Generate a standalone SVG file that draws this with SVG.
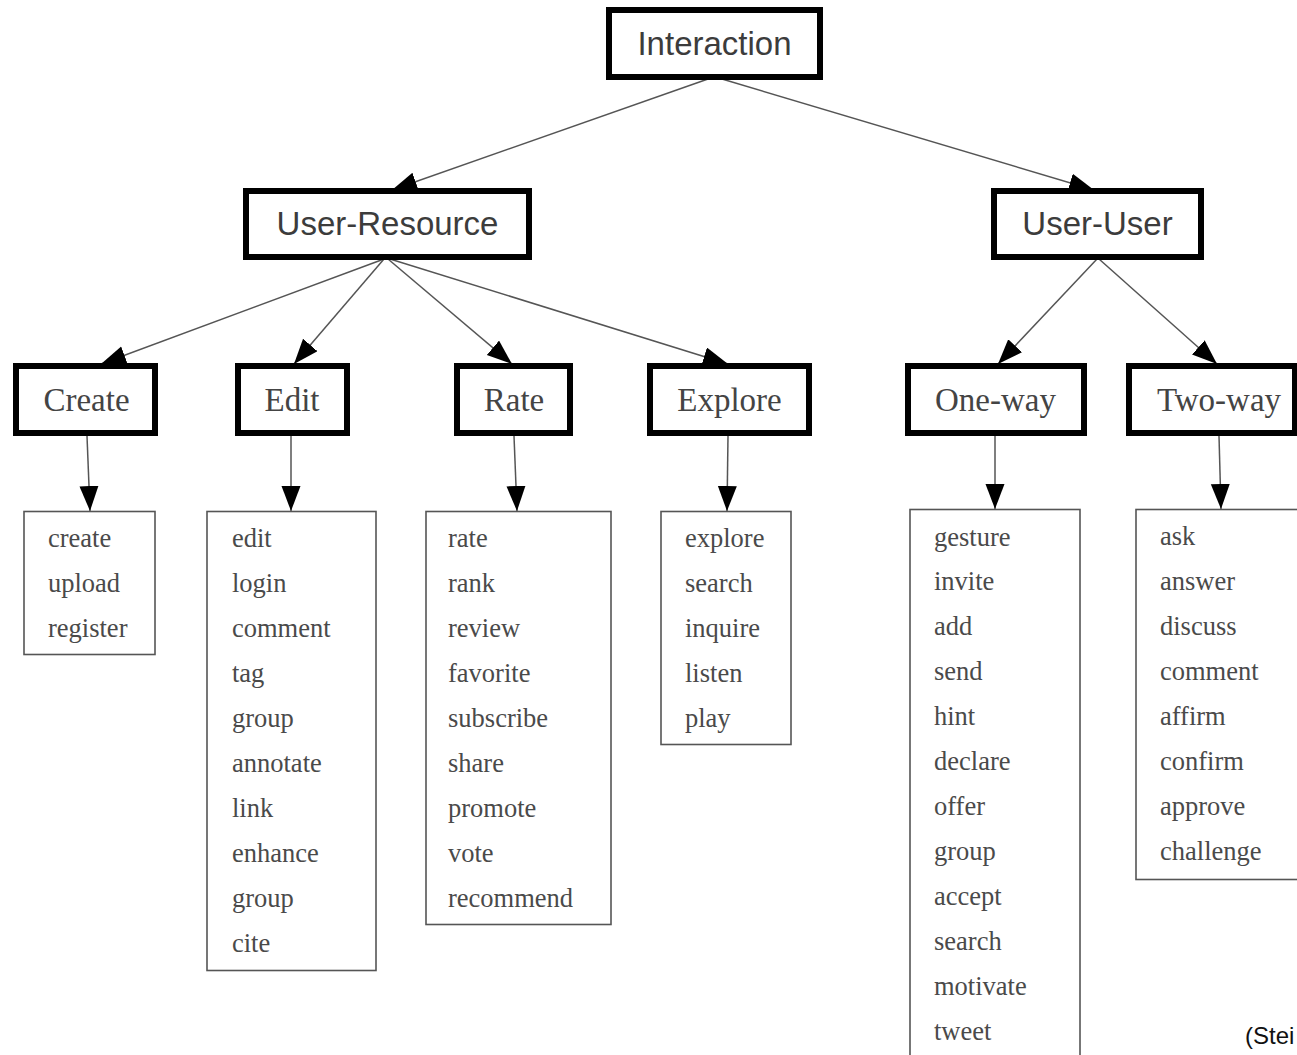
<svg xmlns="http://www.w3.org/2000/svg" width="1297" height="1055" viewBox="0 0 1297 1055">
<style>
.bg{fill:#fff}
.hd{fill:#fff;stroke:#000;stroke-width:6}
.ls{fill:#fff;stroke:#555;stroke-width:1.6}
.sans{font-family:"Liberation Sans",Arial,sans-serif;font-size:33px;fill:#3c3c3c;text-anchor:middle}
.ser{font-family:"Liberation Serif","Times New Roman",serif;font-size:33px;fill:#444;text-anchor:middle}
.it{font-family:"Liberation Serif","Times New Roman",serif;font-size:26.5px;fill:#4a4a4a}
.cn line{stroke:#555;stroke-width:1.5;marker-end:url(#ah)}
.note{font-family:"Liberation Sans",Arial,sans-serif;font-size:24px;fill:#111}
</style>
<defs>
<marker id="ah" markerUnits="userSpaceOnUse" markerWidth="26" markerHeight="20" refX="25" refY="9.5" orient="auto">
<path d="M0,0 L25,9.5 L0,19 z" fill="#000"/>
</marker>
</defs>
<rect class="bg" x="0" y="0" width="1297" height="1055"/>
<g id="connectors" class="cn">
<line x1="708" y1="79" x2="392" y2="190"/>
<line x1="722" y1="79" x2="1094" y2="190"/>
<line x1="384" y1="259" x2="101" y2="364"/>
<line x1="384" y1="259" x2="294" y2="364"/>
<line x1="388" y1="259" x2="512" y2="364"/>
<line x1="390" y1="259" x2="728" y2="364"/>
<line x1="1097" y1="259" x2="998" y2="364"/>
<line x1="1099" y1="259" x2="1217" y2="364"/>
<line x1="87" y1="436" x2="90" y2="511"/>
<line x1="291" y1="436" x2="291" y2="511"/>
<line x1="514" y1="436" x2="517" y2="511"/>
<line x1="728" y1="436" x2="727" y2="511"/>
<line x1="995" y1="436" x2="995" y2="509"/>
<line x1="1219" y1="436" x2="1221" y2="509"/>
</g>
<g id="interaction"><rect class="hd" x="609" y="10" width="211" height="67"/><text class="sans" x="714.5" y="55">Interaction</text></g>
<g id="user-resource"><rect class="hd" x="246" y="191" width="283" height="66"/><text class="sans" x="387.5" y="235">User-Resource</text></g>
<g id="user-user"><rect class="hd" x="994" y="191" width="207" height="66"/><text class="sans" x="1097.5" y="235">User-User</text></g>
<g id="create"><rect class="hd" x="16" y="366" width="139" height="67"/><text class="ser" x="86.5" y="411">Create</text></g>
<g id="edit"><rect class="hd" x="238" y="366" width="109" height="67"/><text class="ser" x="292" y="411">Edit</text></g>
<g id="rate"><rect class="hd" x="457" y="366" width="113" height="67"/><text class="ser" x="514" y="411">Rate</text></g>
<g id="explore"><rect class="hd" x="650" y="366" width="159" height="67"/><text class="ser" x="729.5" y="411">Explore</text></g>
<g id="one-way"><rect class="hd" x="908" y="366" width="176" height="67"/><text class="ser" x="995.5" y="411">One-way</text></g>
<g id="two-way"><rect class="hd" x="1129" y="366" width="166" height="67"/><text class="ser" x="1219" y="411">Two-way</text></g>
<g id="create-list"><rect class="ls" x="24" y="511.5" width="131" height="143"/>
<text class="it" x="48" y="547">create</text><text class="it" x="48" y="592">upload</text><text class="it" x="48" y="637">register</text></g>
<g id="edit-list"><rect class="ls" x="207" y="511.5" width="169" height="459"/>
<text class="it" x="232" y="547">edit</text><text class="it" x="232" y="592">login</text><text class="it" x="232" y="637">comment</text><text class="it" x="232" y="682">tag</text><text class="it" x="232" y="727">group</text><text class="it" x="232" y="772">annotate</text><text class="it" x="232" y="817">link</text><text class="it" x="232" y="862">enhance</text><text class="it" x="232" y="907">group</text><text class="it" x="232" y="952">cite</text></g>
<g id="rate-list"><rect class="ls" x="426" y="511.5" width="185" height="413"/>
<text class="it" x="448" y="547">rate</text><text class="it" x="448" y="592">rank</text><text class="it" x="448" y="637">review</text><text class="it" x="448" y="682">favorite</text><text class="it" x="448" y="727">subscribe</text><text class="it" x="448" y="772">share</text><text class="it" x="448" y="817">promote</text><text class="it" x="448" y="862">vote</text><text class="it" x="448" y="907">recommend</text></g>
<g id="explore-list"><rect class="ls" x="661" y="511.5" width="130" height="233"/>
<text class="it" x="685" y="547">explore</text><text class="it" x="685" y="592">search</text><text class="it" x="685" y="637">inquire</text><text class="it" x="685" y="682">listen</text><text class="it" x="685" y="727">play</text></g>
<g id="one-way-list"><rect class="ls" x="910" y="509.5" width="170" height="560"/>
<text class="it" x="934" y="546">gesture</text><text class="it" x="934" y="590">invite</text><text class="it" x="934" y="635">add</text><text class="it" x="934" y="680">send</text><text class="it" x="934" y="725">hint</text><text class="it" x="934" y="770">declare</text><text class="it" x="934" y="815">offer</text><text class="it" x="934" y="860">group</text><text class="it" x="934" y="905">accept</text><text class="it" x="934" y="950">search</text><text class="it" x="934" y="995">motivate</text><text class="it" x="934" y="1040">tweet</text></g>
<g id="two-way-list"><rect class="ls" x="1136" y="509.5" width="180" height="370"/>
<text class="it" x="1160" y="545">ask</text><text class="it" x="1160" y="590">answer</text><text class="it" x="1160" y="635">discuss</text><text class="it" x="1160" y="680">comment</text><text class="it" x="1160" y="725">affirm</text><text class="it" x="1160" y="770">confirm</text><text class="it" x="1160" y="815">approve</text><text class="it" x="1160" y="860">challenge</text></g>
<text class="note" x="1245" y="1044">(Stei</text>
</svg>
